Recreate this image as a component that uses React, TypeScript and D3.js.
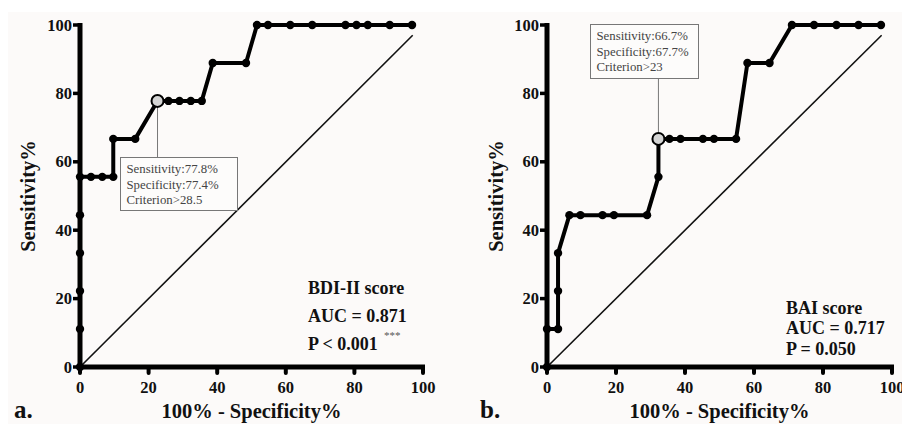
import React from "react";
import * as d3 from "d3";

// ---- data ----
const ticks = [0, 20, 40, 60, 80, 100];

const bdiFpr = [0, 0, 0, 0, 0, 0, 3.2, 6.5, 9.7, 9.7, 16.1, 22.6, 25.8, 29.0, 32.3, 35.5, 38.7, 48.4, 51.6, 54.8, 61.3, 67.7, 77.4, 80.6, 83.9, 90.3, 96.8];
const bdiSens = [0, 11.1, 22.2, 33.3, 44.4, 55.6, 55.6, 55.6, 55.6, 66.7, 66.7, 77.8, 77.8, 77.8, 77.8, 77.8, 88.9, 88.9, 100, 100, 100, 100, 100, 100, 100, 100, 100];

const baiFpr = [0, 0, 3.2, 3.2, 3.2, 6.5, 9.7, 16.1, 19.4, 29.0, 32.3, 32.3, 35.5, 38.7, 45.2, 48.4, 54.8, 58.1, 64.5, 71.0, 77.4, 83.9, 90.3, 96.8];
const baiSens = [0, 11.1, 11.1, 22.2, 33.3, 44.4, 44.4, 44.4, 44.4, 44.4, 55.6, 66.7, 66.7, 66.7, 66.7, 66.7, 66.7, 88.9, 88.9, 100, 100, 100, 100, 100];

const bdiCut = { fpr: 22.6, sens: 77.8 };
const baiCut = { fpr: 32.3, sens: 66.7 };

const bdiNote = ["Sensitivity:77.8%", "Specificity:77.4%", "Criterion>28.5"];
const baiNote = ["Sensitivity:66.7%", "Specificity:67.7%", "Criterion>23"];

const bdiStats = ["BDI-II score", "AUC = 0.871", "P < 0.001"];
const baiStats = ["BAI score", "AUC = 0.717", "P = 0.050"];

const diagEnd = 97;

const SERIF = "Liberation Serif, DejaVu Serif, serif";

type PanelProps = {
  x0: number;
  x1: number;
  fpr: number[];
  sens: number[];
  cut: { fpr: number; sens: number };
  note: string[];
  noteBox: { x: number; y: number; w: number; h: number };
  stats: string[];
  statsPos: { x: number; y: number; dy: number };
  stars: boolean;
  letter: string;
  letterX: number;
  ylabelX: number;
};

function Panel(p: PanelProps) {
  const x = d3.scaleLinear().domain([0, 100]).range([p.x0, p.x1]);
  const y = d3.scaleLinear().domain([0, 100]).range([367, 25]);
  const pts = p.fpr.map((f, i) => [f, p.sens[i]] as [number, number]);
  const line = d3
    .line<[number, number]>()
    .x((d) => x(d[0]))
    .y((d) => y(d[1]));
  const cx = x(p.cut.fpr);
  const cy = y(p.cut.sens);
  const boxBelow = p.noteBox.y > cy;
  return (
    <g style={{ fontFamily: SERIF }}>
      <line x1={x(0)} y1={y(0)} x2={x(diagEnd)} y2={y(diagEnd)} stroke="#111" strokeWidth={1.6} />
      <line
        x1={cx}
        x2={cx}
        y1={boxBelow ? cy : p.noteBox.y + p.noteBox.h}
        y2={boxBelow ? p.noteBox.y : cy}
        stroke="#777"
        strokeWidth={1}
      />
      <rect x={p.noteBox.x} y={p.noteBox.y} width={p.noteBox.w} height={p.noteBox.h} fill="#fdfcfb" stroke="#777" strokeWidth={1} />
      {p.note.map((t, i) => (
        <text key={i} x={p.noteBox.x + 6} y={p.noteBox.y + 15.5 + i * 15.5} fontSize={12.8} fill="#444">
          {t}
        </text>
      ))}
      <path d={line(pts) || ""} fill="none" stroke="#000" strokeWidth={4} strokeLinejoin="round" />
      {pts.map((d, i) => (
        <circle key={i} cx={x(d[0])} cy={y(d[1])} r={4.2} fill="#000" />
      ))}
      <circle cx={cx} cy={cy} r={6} fill="#d4d4d4" stroke="#000" strokeWidth={2} />
      <line x1={x(0)} x2={x(0)} y1={y(0) + 2.5} y2={y(100) - 2} stroke="#000" strokeWidth={5} />
      <line x1={x(0) - 2.5} x2={x(100) + 2} y1={y(0)} y2={y(0)} stroke="#000" strokeWidth={5} />
      {ticks.map((t) => (
        <g key={"y" + t}>
          <line x1={x(0) - 7} x2={x(0)} y1={y(t)} y2={y(t)} stroke="#000" strokeWidth={3.5} />
          <text x={x(0) - 8} y={y(t) + 5.5} textAnchor="end" fontWeight="bold" fontSize={16.5} fill="#111">
            {t}
          </text>
        </g>
      ))}
      {ticks.map((t) => (
        <g key={"x" + t}>
          <line x1={x(t)} x2={x(t)} y1={y(0)} y2={y(0) + 6} stroke="#000" strokeWidth={4} strokeLinecap="round" />
          <text x={x(t)} y={393} textAnchor="middle" fontWeight="bold" fontSize={16.5} fill="#111">
            {t}
          </text>
        </g>
      ))}
      <text x={(p.x0 + p.x1) / 2} y={418} textAnchor="middle" fontWeight="bold" fontSize={20.5} fill="#111">
        100% - Specificity%
      </text>
      <text transform={`translate(${p.ylabelX},196) rotate(-90)`} textAnchor="middle" fontWeight="bold" fontSize={20.5} fill="#111">
        Sensitivity%
      </text>
      {p.stats.map((t, i) => (
        <text key={i} x={p.statsPos.x} y={p.statsPos.y + i * p.statsPos.dy} fontWeight="bold" fontSize={18} fill="#111">
          {t}
        </text>
      ))}
      {p.stars && (
        <text x={p.statsPos.x + 76} y={p.statsPos.y + 2 * p.statsPos.dy - 11} fontSize={11} fill="#555">
          ***
        </text>
      )}
      <text x={p.letterX} y={418} fontWeight="bold" fontSize={25} fill="#111">
        {p.letter}
      </text>
    </g>
  );
}

export default function App() {
  return (
    <svg width={902} height={424} style={{ display: "block", position: "absolute", left: 0, top: 0 }}>
      <rect x={0} y={0} width={902} height={424} fill="#fff" />
      <rect x={8} y={12} width={894} height={412} fill="#fcfaf9" />
      <Panel
        x0={80}
        x1={423}
        fpr={bdiFpr}
        sens={bdiSens}
        cut={bdiCut}
        note={bdiNote}
        noteBox={{ x: 120.5, y: 157.5, w: 117, h: 53 }}
        stats={bdiStats}
        statsPos={{ x: 308, y: 294, dy: 28 }}
        stars={true}
        letter="a."
        letterX={14}
        ylabelX={35}
      />
      <Panel
        x0={547}
        x1={892}
        fpr={baiFpr}
        sens={baiSens}
        cut={baiCut}
        note={baiNote}
        noteBox={{ x: 590.5, y: 24.5, w: 108, h: 54 }}
        stats={baiStats}
        statsPos={{ x: 786, y: 313.5, dy: 20.8 }}
        stars={false}
        letter="b."
        letterX={480}
        ylabelX={503}
      />
    </svg>
  );
}
